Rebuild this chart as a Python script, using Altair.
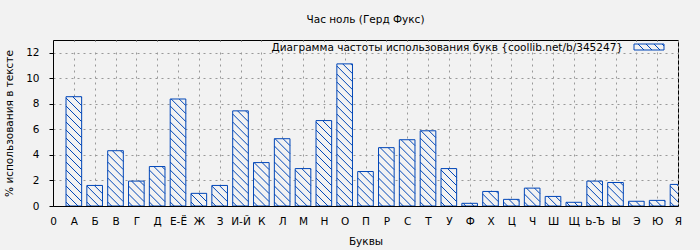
import altair as alt
import pandas as pd

title_text = "Час ноль (Герд Фукс)"
x_title = "Буквы"
y_title = "% использования в тексте"
legend_label = "Диаграмма частоты использования букв {coollib.net/b/345247}"

letters = ["А", "Б", "В", "Г", "Д", "Е-Ё", "Ж", "З", "И-Й", "К", "Л", "М", "Н", "О", "П",
           "Р", "С", "Т", "У", "Ф", "Х", "Ц", "Ч", "Ш", "Щ", "Ь-Ъ", "Ы", "Э", "Ю", "Я"]
values = [8.56, 1.61, 4.33, 1.95, 3.09, 8.38, 0.99, 1.61, 7.45, 3.40, 5.27, 2.93, 6.69, 11.13, 2.70,
          4.57, 5.19, 5.89, 2.93, 0.21, 1.14, 0.52, 1.40, 0.75, 0.29, 1.95, 1.84, 0.37, 0.44, 1.69]
tick_labels = ["0"] + letters
y_ticks = [0, 2, 4, 6, 8, 10, 12]

df = pd.DataFrame({"letter": letters, "value": values,
                   "idx": list(range(1, len(letters) + 1))})

W, H = 625, 166
XMAX, YMAX = len(letters), 13
PX = W / XMAX
PY = H / YMAX
HALF = 0.375
BARPX = 2 * HALF * PX
STEP = 8
BLUE = "#0046b8"
BG = "#f2f2f2"
FONT = "DejaVu Sans"
FS = 10.5

x_scale = alt.Scale(domain=[0, XMAX], nice=False, zero=False)
y_scale = alt.Scale(domain=[0, YMAX], nice=False)

label_expr = "[" + ",".join(f"'{t}'" for t in tick_labels) + "][datum.value]"

x_axis = alt.Axis(values=list(range(0, XMAX + 1)), labelExpr=label_expr, title=x_title,
                  ticks=False, labelPadding=10, labelFlush=False, labelOverlap=False,
                  titleY=35, titleBaseline="middle", grid=True)
y_axis = alt.Axis(values=y_ticks, tickSize=4, labelPadding=10, title=y_title,
                  titleX=-44, titleY=H / 2, titleAngle=270, titleAlign="center",
                  titleBaseline="middle", grid=True)

bars = alt.Chart().transform_calculate(
    x1=f"datum.idx - {HALF}", x2=f"datum.idx + {HALF}"
).mark_rect(fill=BG, stroke=BLUE, strokeWidth=1, clip=True).encode(
    x=alt.X("x1:Q", scale=x_scale, axis=x_axis, title=x_title),
    x2="x2:Q",
    y=alt.Y("value:Q", scale=y_scale, axis=y_axis, title=y_title),
    y2=alt.datum(0),
)

hatch = alt.Chart().transform_calculate(
    hpx=f"datum.value * {PY}"
).transform_calculate(
    cs=f"sequence({STEP / 2}, {BARPX} + datum.hpx, {STEP})"
).transform_flatten(["cs"], as_=["c"]).transform_calculate(
    u1="max(0, datum.c - datum.hpx)", u2=f"min({BARPX}, datum.c)"
).transform_filter("datum.u2 > datum.u1").transform_calculate(
    hx1=f"datum.idx - {HALF} + datum.u1 / {PX}",
    hy1=f"(datum.c - datum.u1) / {PY}",
    hx2=f"datum.idx - {HALF} + datum.u2 / {PX}",
    hy2=f"(datum.c - datum.u2) / {PY}",
).mark_rule(color=BLUE, strokeWidth=1, clip=True).encode(
    x=alt.X("hx1:Q", scale=x_scale, axis=x_axis, title=x_title),
    x2="hx2:Q",
    y=alt.Y("hy1:Q", scale=y_scale, axis=y_axis, title=y_title),
    y2="hy2:Q",
)

one = pd.DataFrame({"label": [legend_label]})

legend_bg = alt.Chart(one).mark_rect(fill=BG).encode(
    x=alt.value(1), x2=alt.value(W - 1), y=alt.value(2), y2=alt.value(12))

legend_text = alt.Chart(one).mark_text(
    align="right", baseline="middle", fontSize=FS, font=FONT, color="black"
).encode(text="label:N", x=alt.value(570), y=alt.value(7.5))

SX, SY, SW, SH = 581, 4, 30, 6
swatch = alt.Chart(one).mark_rect(fill=BG, stroke=BLUE, strokeWidth=1).encode(
    x=alt.value(SX), x2=alt.value(SX + SW), y=alt.value(SY), y2=alt.value(SY + SH))

swatch_lines = []
for a in [4, 12, 20, 28]:
    u1, u2 = max(0, a), min(SW, a + SH)
    swatch_lines.append(
        alt.Chart(one).mark_rule(color=BLUE, strokeWidth=1).encode(
            x=alt.value(SX + u1), x2=alt.value(SX + u2),
            y=alt.value(SY + (u1 - a)), y2=alt.value(SY + (u2 - a)))
    )

chart = alt.layer(
    bars, hatch, legend_bg, legend_text, swatch, *swatch_lines, data=df
).properties(
    width=W, height=H,
    title=alt.TitleParams(title_text, fontSize=FS, fontWeight="normal", font=FONT,
                          color="black", offset=15, anchor="middle"),
    autosize=alt.AutoSizeParams(type="none"),
    padding={"left": 53, "top": 40, "right": 22, "bottom": 44},
    background=BG,
).configure_view(
    stroke="black", strokeWidth=1, fill=BG
).configure_axis(
    domainColor="black", tickColor="black", labelColor="black", titleColor="black",
    labelFont=FONT, titleFont=FONT, labelFontSize=FS, titleFontSize=FS,
    titleFontWeight="normal", gridColor="#999999", gridDash=[2, 4], gridWidth=1,
    grid=True
)

chart.save("out.html", embed_options={"renderer": "svg", "actions": False})
